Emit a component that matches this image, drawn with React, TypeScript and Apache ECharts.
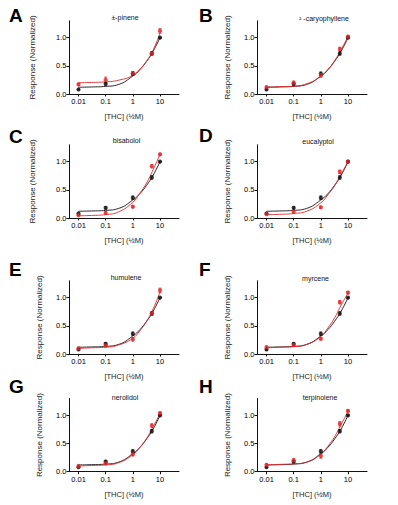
import { useEffect, useRef } from 'react';
import * as echarts from 'echarts';

// ---------- data ----------
const CONC = [0.01, 0.1, 1, 5, 10];
const CURVE_CONC = [0.01, 0.03, 0.1, 0.3, 1, 1.8, 3.2, 5.6, 10];
const X_TICKS = [0.01, 0.1, 1, 10];
const X_TICK_LABELS = ['0.01', '0.1', '1', '10'];
const Y_TICKS = [0, 0.5, 1.0];

const THC_ALONE = [0.08, 0.18, 0.36, 0.72, 1.0];
const THC_ALONE_ERR = [0.01, 0.02, 0.03, 0.03, 0.01];
const THC_ALONE_FIT = [0.12, 0.125, 0.135, 0.17, 0.32, 0.43, 0.58, 0.76, 1.0];

const PANEL_LETTERS = ['A', 'B', 'C', 'D', 'E', 'F', 'G', 'H'];
const TERPENES = ['±-pinene', '² -caryophyllene', 'bisabolol', 'eucalyptol', 'humulene', 'myrcene', 'nerolidol', 'terpinolene'];

const PINENE = [0.17, 0.25, 0.37, 0.72, 1.12];
const PINENE_ERR = [0.02, 0.05, 0.03, 0.02, 0.04];
const PINENE_FIT = [0.2, 0.205, 0.215, 0.245, 0.33, 0.44, 0.58, 0.78, 1.08];

const CARYOPHYLLENE = [0.12, 0.2, 0.33, 0.8, 1.02];
const CARYOPHYLLENE_ERR = [0.02, 0.03, 0.03, 0.03, 0.02];
const CARYOPHYLLENE_FIT = [0.12, 0.13, 0.14, 0.18, 0.31, 0.43, 0.59, 0.79, 1.02];

const BISABOLOL = [0.05, 0.09, 0.2, 0.92, 1.13];
const BISABOLOL_ERR = [0.01, 0.02, 0.02, 0.03, 0.02];
const BISABOLOL_FIT = [0.04, 0.045, 0.06, 0.11, 0.28, 0.44, 0.62, 0.86, 1.13];

const EUCALYPTOL = [0.07, 0.11, 0.19, 0.82, 1.0];
const EUCALYPTOL_ERR = [0.01, 0.02, 0.02, 0.03, 0.02];
const EUCALYPTOL_FIT = [0.06, 0.065, 0.08, 0.12, 0.27, 0.41, 0.57, 0.78, 1.0];

const HUMULENE = [0.1, 0.15, 0.26, 0.72, 1.13];
const HUMULENE_ERR = [0.02, 0.02, 0.03, 0.03, 0.04];
const HUMULENE_FIT = [0.1, 0.11, 0.12, 0.16, 0.28, 0.41, 0.58, 0.8, 1.1];

const MYRCENE = [0.12, 0.16, 0.27, 0.92, 1.09];
const MYRCENE_ERR = [0.02, 0.02, 0.02, 0.03, 0.02];
const MYRCENE_FIT = [0.11, 0.12, 0.13, 0.17, 0.31, 0.46, 0.64, 0.87, 1.08];

const NEROLIDOL = [0.1, 0.15, 0.31, 0.82, 1.04];
const NEROLIDOL_ERR = [0.02, 0.02, 0.03, 0.03, 0.02];
const NEROLIDOL_FIT = [0.1, 0.11, 0.12, 0.16, 0.3, 0.43, 0.59, 0.8, 1.03];

const TERPINOLENE = [0.12, 0.2, 0.28, 0.85, 1.08];
const TERPINOLENE_ERR = [0.02, 0.03, 0.04, 0.04, 0.02];
const TERPINOLENE_FIT = [0.12, 0.13, 0.14, 0.17, 0.31, 0.45, 0.62, 0.84, 1.07];

const COMBO = [PINENE, CARYOPHYLLENE, BISABOLOL, EUCALYPTOL, HUMULENE, MYRCENE, NEROLIDOL, TERPINOLENE];
const COMBO_ERR = [PINENE_ERR, CARYOPHYLLENE_ERR, BISABOLOL_ERR, EUCALYPTOL_ERR, HUMULENE_ERR, MYRCENE_ERR, NEROLIDOL_ERR, TERPINOLENE_ERR];
const COMBO_FIT = [PINENE_FIT, CARYOPHYLLENE_FIT, BISABOLOL_FIT, EUCALYPTOL_FIT, HUMULENE_FIT, MYRCENE_FIT, NEROLIDOL_FIT, TERPINOLENE_FIT];

const Y_NAME = 'Response (Normalized)';
const X_NAME = '[THC] (½M)';

// ---------- layout ----------
const COL_LEFT = [69, 257];
const ROW_ZERO = [94, 218, 354, 471.7];
const PLOT_W = 110;
const Y_MAX = 1.3;
const PLOT_H = 73.2;
const X_MIN = -2.35;
const X_MAX = 1.7;
const LETTER_POS = [[9, 15], [199, 15], [9, 136], [199, 135], [9, 269], [199, 269], [9, 386], [199, 386]];
const TITLE_POS = [[125, 17], [324, 18], [126.5, 140], [318, 141], [126, 277], [315.5, 278], [125, 397.5], [320, 397.5]];
const YNAME_X = [32, 227, 32, 227, 39, 227, 39, 227];

const FONT = "'Liberation Sans', Arial, Helvetica, sans-serif";
const BLACK = '#111111';
const RED = '#e3262a';

function buildOption() {
  const grids: any[] = [];
  const xAxes: any[] = [];
  const yAxes: any[] = [];
  const series: any[] = [];
  const graphics: any[] = [];
  const lx = (c: number) => Math.log10(c);

  const errRender = (color: string) => (params: any, api: any) => {
    const x = api.value(0);
    const y = api.value(1);
    const e = api.value(2);
    const p1 = api.coord([x, y + e]);
    const p2 = api.coord([x, y - e]);
    const style = { stroke: color, lineWidth: 0.8 };
    return {
      type: 'group',
      children: [
        { type: 'line', shape: { x1: p1[0], y1: p1[1], x2: p2[0], y2: p2[1] }, style },
        { type: 'line', shape: { x1: p1[0] - 1.5, y1: p1[1], x2: p1[0] + 1.5, y2: p1[1] }, style },
        { type: 'line', shape: { x1: p2[0] - 1.5, y1: p2[1], x2: p2[0] + 1.5, y2: p2[1] }, style },
      ],
    };
  };

  for (let i = 0; i < 8; i++) {
    const col = i % 2;
    const row = Math.floor(i / 2);
    const left = COL_LEFT[col];
    const zero = ROW_ZERO[row];
    const top = zero - PLOT_H;
    grids.push({ left, top, width: PLOT_W, height: PLOT_H, containLabel: false });
    xAxes.push({
      type: 'value',
      gridIndex: i,
      min: X_MIN,
      max: X_MAX,
      axisLine: { show: true, onZero: false, lineStyle: { color: BLACK, width: 1 } },
      axisTick: { show: true, length: 2.5, customValues: X_TICKS.map(lx), lineStyle: { color: BLACK, width: 1 } },
      axisLabel: {
        customValues: X_TICKS.map(lx),
        margin: 3.5,
        fontSize: 7.5,
        fontFamily: FONT,
        color: '#000',
        formatter: (v: number) => {
          const k = X_TICKS.findIndex((t) => Math.abs(lx(t) - v) < 1e-6);
          return k >= 0 ? X_TICK_LABELS[k] : '';
        },
      },
      splitLine: { show: false },
    });
    yAxes.push({
      type: 'value',
      gridIndex: i,
      min: 0,
      max: Y_MAX,
      axisLine: { show: true, onZero: false, lineStyle: { color: BLACK, width: 1 } },
      axisTick: { show: true, length: 2.5, customValues: Y_TICKS, lineStyle: { color: BLACK, width: 1 } },
      axisLabel: {
        customValues: Y_TICKS,
        margin: 2.5,
        fontSize: 7.5,
        fontFamily: FONT,
        color: '#000',
        formatter: (v: number) => v.toFixed(1),
      },
      splitLine: { show: false },
    });

    const curveBlack = CURVE_CONC.map((c, k) => [lx(c), THC_ALONE_FIT[k]]);
    const curveRed = CURVE_CONC.map((c, k) => [lx(c), COMBO_FIT[i][k]]);
    series.push({
      type: 'line', xAxisIndex: i, yAxisIndex: i, data: curveBlack, smooth: 0.5,
      showSymbol: false, symbol: 'none', lineStyle: { color: BLACK, width: 0.9 }, z: 2, silent: true,
    });
    series.push({
      type: 'line', xAxisIndex: i, yAxisIndex: i, data: curveRed, smooth: 0.5,
      showSymbol: false, symbol: 'none', lineStyle: { color: RED, width: 0.9 }, z: 2, silent: true,
    });
    series.push({
      type: 'custom', xAxisIndex: i, yAxisIndex: i, renderItem: errRender(BLACK),
      data: CONC.map((c, k) => [lx(c), THC_ALONE[k], THC_ALONE_ERR[k]]), z: 3, silent: true,
    });
    series.push({
      type: 'custom', xAxisIndex: i, yAxisIndex: i, renderItem: errRender(RED),
      data: CONC.map((c, k) => [lx(c), COMBO[i][k], COMBO_ERR[i][k]]), z: 3, silent: true,
    });
    series.push({
      type: 'scatter', xAxisIndex: i, yAxisIndex: i, symbol: 'circle', symbolSize: 4.2,
      data: CONC.map((c, k) => [lx(c), THC_ALONE[k]]), itemStyle: { color: BLACK }, z: 4, silent: true,
    });
    series.push({
      type: 'scatter', xAxisIndex: i, yAxisIndex: i, symbol: 'circle', symbolSize: 4.2,
      data: CONC.map((c, k) => [lx(c), COMBO[i][k]]), itemStyle: { color: RED }, z: 5, silent: true,
    });

    // texts
    graphics.push({
      type: 'text', x: LETTER_POS[i][0], y: LETTER_POS[i][1],
      style: { text: PANEL_LETTERS[i], font: `bold 19px ${FONT}`, fill: '#000', textAlign: 'left', textVerticalAlign: 'middle' },
    });
    graphics.push({
      type: 'text', x: TITLE_POS[i][0], y: TITLE_POS[i][1],
      style: { text: TERPENES[i], font: `7px ${FONT}`, fill: '#111', textAlign: 'center', textVerticalAlign: 'middle' },
    });
    graphics.push({
      type: 'text', x: YNAME_X[i], y: top + PLOT_H / 2, rotation: Math.PI / 2,
      style: { text: Y_NAME, font: `8px ${FONT}`, fill: '#222', textAlign: 'center', textVerticalAlign: 'middle' },
    });
    graphics.push({
      type: 'text', x: left + PLOT_W / 2, y: zero + 22.5,
      style: { text: X_NAME, font: `7.5px ${FONT}`, fill: '#222', textAlign: 'center', textVerticalAlign: 'middle' },
    });
  }

  return {
    animation: false,
    backgroundColor: '#ffffff',
    grid: grids,
    xAxis: xAxes,
    yAxis: yAxes,
    series,
    graphic: graphics,
  };
}

export default function App() {
  const ref = useRef<HTMLDivElement>(null);
  useEffect(() => {
    if (!ref.current) return;
    const chart = echarts.init(ref.current, null, { renderer: 'svg' });
    chart.setOption(buildOption());
    return () => chart.dispose();
  }, []);
  return <div ref={ref} style={{ position: 'absolute', left: 0, top: 0, width: 398, height: 505 }} />;
}
